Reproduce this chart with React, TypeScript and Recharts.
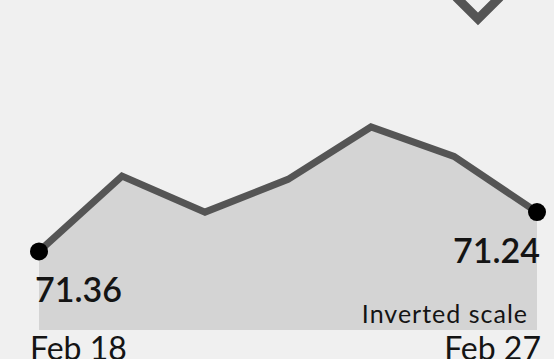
import { AreaChart, Area, XAxis, YAxis, LabelList } from 'recharts';

const dates = ['Feb 18', 'Feb 19', 'Feb 20', 'Feb 21', 'Feb 24', 'Feb 25', 'Feb 27'];
const rates = [71.36, 71.13, 71.24, 71.14, 70.98, 71.07, 71.24];
const yDomain = [70.8, 71.6];

const data = dates.map((d, i) => ({ date: d, rate: rates[i] }));
const last = dates.length - 1;

const FONT = 'Lato, "Open Sans", sans-serif';
const INK = '#141414';

function EndDot(props: any) {
  const { cx, cy, index } = props;
  if (index !== 0 && index !== last) return <g key={index} />;
  return <circle key={index} cx={cx} cy={cy} r={9} fill="#000" />;
}

function EndLabel(props: any) {
  const { x, y, value, index } = props;
  if (index !== 0 && index !== last) return null;
  const first = index === 0;
  return (
    <text
      x={first ? x - 4 : x + 3}
      y={y + 51}
      textAnchor={first ? 'start' : 'end'}
      fontFamily={FONT}
      fontSize={34}
      fontWeight={600}
      fill={INK}
    >
      {value.toFixed(2)}
    </text>
  );
}

function DateTick(props: any) {
  const { x, y, payload } = props;
  const i = dates.indexOf(payload.value);
  if (i !== 0 && i !== last) return <g />;
  const first = i === 0;
  return (
    <text
      x={first ? x - 9 : x + 4}
      y={y + 22}
      textAnchor={first ? 'start' : 'end'}
      fontFamily={FONT}
      fontSize={32}
      fill={INK}
    >
      {payload.value}
    </text>
  );
}

export default function App() {
  return (
    <div
      style={{
        position: 'absolute',
        left: 0,
        top: 0,
        width: 554,
        height: 359,
        background: '#f0f0f0',
        overflow: 'hidden',
      }}
    >
      <AreaChart
        width={554}
        height={359}
        data={data}
        margin={{ top: 68, right: 17, bottom: 0, left: 39 }}
      >
        <XAxis
          dataKey="date"
          height={29}
          axisLine={false}
          tickLine={false}
          interval={0}
          tick={<DateTick />}
        />
        <YAxis hide reversed domain={yDomain} type="number" />
        <Area
          type="linear"
          dataKey="rate"
          stroke="#555555"
          strokeWidth={7}
          fill="#d4d4d4"
          fillOpacity={1}
          baseValue="dataMax"
          dot={(p: any) => <EndDot {...p} />}
          activeDot={false}
          isAnimationActive={false}
        >
          <LabelList dataKey="rate" content={(p: any) => <EndLabel {...p} />} />
        </Area>
      </AreaChart>
      <div
        style={{
          position: 'absolute',
          right: 26,
          top: 298,
          fontFamily: FONT,
          fontSize: 25,
          letterSpacing: 1,
          color: INK,
          whiteSpace: 'nowrap',
        }}
      >
        Inverted scale
      </div>
      <svg
        style={{ position: 'absolute', left: 0, top: 0 }}
        width={554}
        height={40}
      >
        <polyline
          points="456,-3 478,19 500,-3"
          fill="none"
          stroke="#555555"
          strokeWidth={9}
        />
      </svg>
    </div>
  );
}
